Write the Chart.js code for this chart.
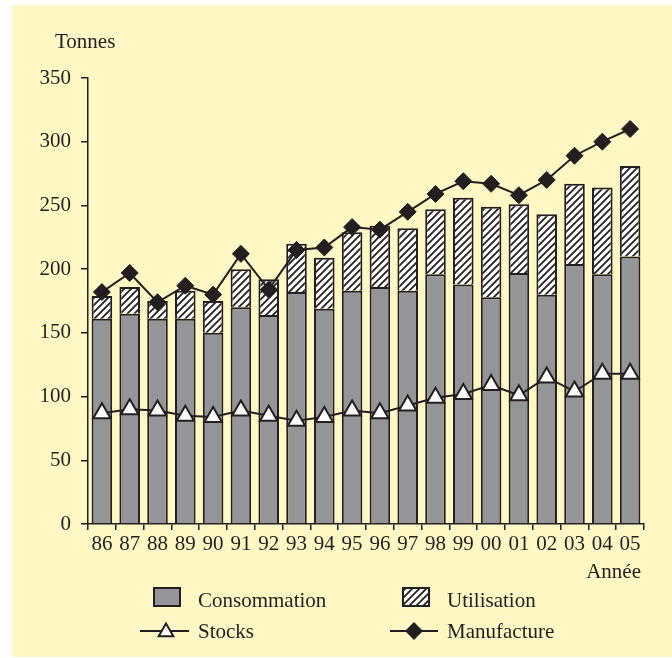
<!DOCTYPE html>
<html>
<head>
<meta charset="utf-8">
<script src="https://cdn.jsdelivr.net/npm/chart.js@4.4.0/dist/chart.umd.min.js"></script>
<style>
  html, body { margin: 0; padding: 0; background: #fff; }
  #wrap { width: 672px; height: 658px; }
</style>
</head>
<body>
<div id="wrap"><canvas id="myChart" width="672" height="658"></canvas></div>
<script>
// Tonnes per year

const years = ["86", "87", "88", "89", "90", "91", "92", "93", "94", "95",
  "96", "97", "98", "99", "00", "01", "02", "03", "04", "05"];

const consommation = [161, 165, 161, 161, 150, 170, 164, 182, 169, 183,
  186, 183, 196, 188, 178, 197, 180, 204, 196, 210];

const utilisation = [18, 21, 14, 22, 25, 30, 28, 38, 40, 46,
  48, 49, 51, 68, 71, 54, 63, 63, 68, 71];

const stocks = [87, 90, 89, 85, 84, 89, 85, 81, 84, 89,
  87, 93, 99, 102, 109, 101, 115, 104, 118, 118];

const manufacture = [182, 197, 174, 187, 180, 212, 184, 215, 217, 233,
  231, 245, 259, 269, 267, 258, 270, 289, 300, 310];

const yTicks = [0, 50, 100, 150, 200, 250, 300, 350];

//

const ink = "#231f20",
  grey = "#939598",
  paper = "#fff7c4",
  serif = "'Liberation Serif', 'DejaVu Serif', serif",
  fontSize = 21;

// white tile with "/" stripes for the Utilisation bars
const makeHatch = () => {
  const tile = document.createElement("canvas");
  tile.width = 7;
  tile.height = 7;
  const c = tile.getContext("2d");
  c.fillStyle = "#fff";
  c.fillRect(0, 0, 7, 7);
  c.strokeStyle = ink;
  c.lineWidth = 1.8;
  c.beginPath();
  c.moveTo(-1, 8); c.lineTo(8, -1);
  c.moveTo(-4.5, 4.5); c.lineTo(4.5, -4.5);
  c.moveTo(2.5, 11.5); c.lineTo(11.5, 2.5);
  c.stroke();
  return c.createPattern(tile, "repeat");
};

const hatch = makeHatch();

const decor = {
  id: "decor",
  beforeDraw(chart) {
    const ctx = chart.ctx;
    ctx.save();
    ctx.fillStyle = paper;
    ctx.fillRect(12, 5, 660, 652);
    ctx.restore();
  },
  afterDraw(chart) {
    const ctx = chart.ctx;
    const drawPoint = Chart.helpers.drawPoint;
    ctx.save();
    ctx.fillStyle = ink;
    ctx.font = fontSize + "px " + serif;
    ctx.textBaseline = "alphabetic";

    ctx.textAlign = "left";
    ctx.fillText("Tonnes", 55, 48);
    ctx.textAlign = "right";
    ctx.fillText("Année", 641, 578);

    // legend
    ctx.textAlign = "left";
    ctx.lineWidth = 2;
    ctx.strokeStyle = ink;

    ctx.fillStyle = grey;
    ctx.fillRect(154, 588, 26, 18);
    ctx.strokeRect(154, 588, 26, 18);
    ctx.fillStyle = hatch;
    ctx.fillRect(403, 588, 26, 18);
    ctx.strokeRect(403, 588, 26, 18);

    ctx.fillStyle = ink;
    ctx.fillText("Consommation", 198, 607);
    ctx.fillText("Utilisation", 447, 607);
    ctx.fillText("Stocks", 198, 638);
    ctx.fillText("Manufacture", 447, 638);

    ctx.beginPath();
    ctx.moveTo(140, 631); ctx.lineTo(189, 631);
    ctx.moveTo(390, 631); ctx.lineTo(438, 631);
    ctx.stroke();

    ctx.fillStyle = "#fff";
    drawPoint(ctx, { pointStyle: "triangle", radius: 8.5, rotation: 0, borderWidth: 2 }, 166, 632);
    ctx.fillStyle = ink;
    drawPoint(ctx, { pointStyle: "rectRot", radius: 7.5, rotation: 0, borderWidth: 1 }, 414, 631);
    ctx.restore();
  },
};

const data = {
  labels: years,
  datasets: [
    {
      type: "line",
      label: "Manufacture",
      data: manufacture,
      stack: "manufacture",
      order: 0,
      borderColor: ink,
      borderWidth: 2,
      backgroundColor: ink,
      pointStyle: "rectRot",
      pointRadius: 8.5,
      pointBorderWidth: 1,
      pointBorderColor: ink,
      pointBackgroundColor: ink,
      tension: 0,
    },
    {
      type: "line",
      label: "Stocks",
      data: stocks,
      stack: "stocks",
      order: 1,
      borderColor: ink,
      borderWidth: 2,
      backgroundColor: "#fff",
      pointStyle: "triangle",
      pointRadius: 10,
      pointBorderWidth: 2,
      pointBorderColor: ink,
      pointBackgroundColor: "#fff",
      tension: 0,
    },
    {
      type: "bar",
      label: "Consommation",
      data: consommation,
      stack: "bars",
      order: 2,
      backgroundColor: grey,
      borderColor: ink,
      borderWidth: 2,
      barPercentage: 0.74,
      categoryPercentage: 1,
    },
    {
      type: "bar",
      label: "Utilisation",
      data: utilisation,
      stack: "bars",
      order: 2,
      backgroundColor: hatch,
      borderColor: ink,
      borderWidth: 2,
      barPercentage: 0.74,
      categoryPercentage: 1,
    },
  ],
};

const config = {
  type: "bar",
  data: data,
  plugins: [decor],
  options: {
    responsive: false,
    animation: false,
    layout: { padding: { top: 78, right: 28, bottom: 0, left: 0 } },
    plugins: {
      legend: { display: false },
      tooltip: { enabled: false },
    },
    scales: {
      x: {
        stacked: true,
        offset: true,
        afterFit: (scale) => { scale.height = 134; },
        grid: {
          offset: true,
          drawOnChartArea: false,
          drawTicks: true,
          tickLength: 6,
          color: ink,
          lineWidth: 1.5,
        },
        border: { display: true, color: ink, width: 1.5 },
        ticks: {
          color: ink,
          padding: 2,
          maxRotation: 0,
          autoSkip: false,
          font: { family: serif, size: fontSize },
        },
      },
      y: {
        stacked: true,
        min: 0,
        max: 350,
        afterFit: (scale) => { scale.width = 88; },
        afterBuildTicks: (scale) => {
          scale.ticks = yTicks.map((v) => ({ value: v }));
        },
        grid: {
          drawOnChartArea: false,
          drawTicks: true,
          tickLength: 7,
          color: ink,
          lineWidth: 1.5,
        },
        border: { display: true, color: ink, width: 1.5 },
        ticks: {
          color: ink,
          padding: 10,
          font: { family: serif, size: fontSize },
        },
      },
    },
  },
};

const myChart = new Chart(document.getElementById("myChart"), config);
</script>
</body>
</html>
